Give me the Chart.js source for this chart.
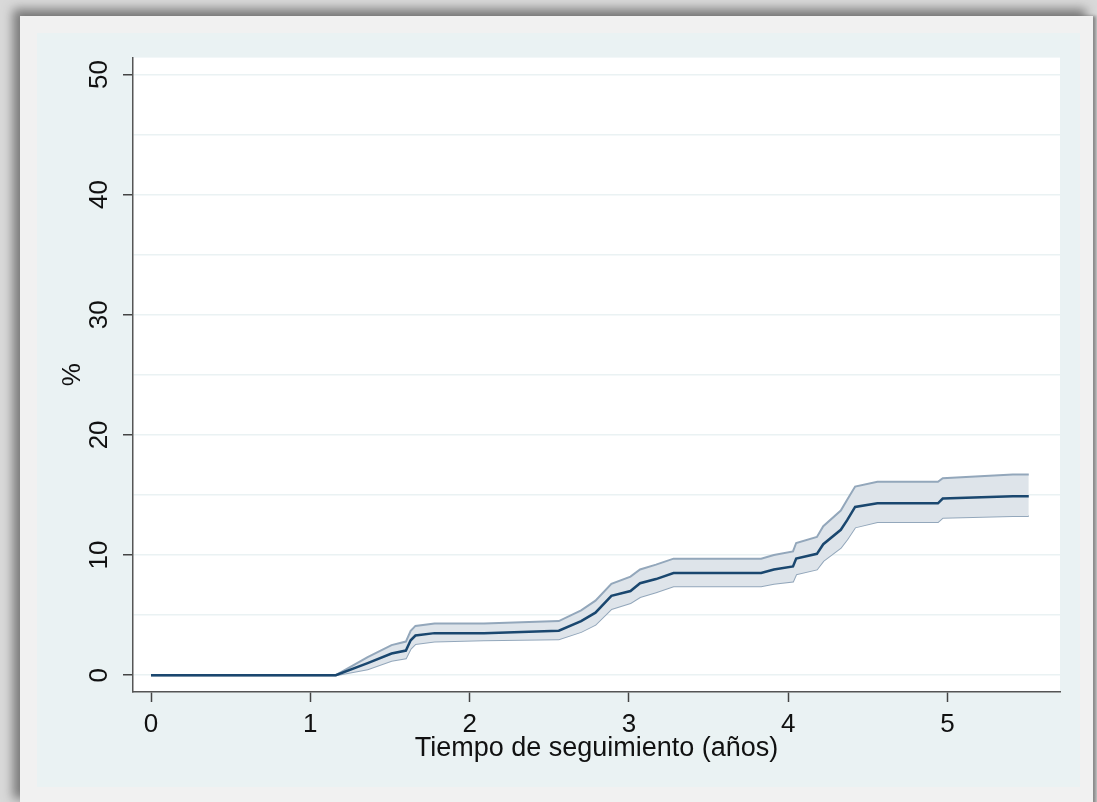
<!DOCTYPE html>
<html>
<head>
<meta charset="utf-8">
<script src="https://cdn.jsdelivr.net/npm/chart.js@4/dist/chart.umd.min.js"></script>
<style>
	body { margin: 0; background: #d9d9d9; width: 1097px; height: 802px; overflow: hidden; position: relative; }
	#marco { position: absolute; left: 20px; top: 16px; width: 1073px; height: 790px; background: #f1f1f1;
		box-shadow: -7px -7px 10px #7a7a7a, 3px 0 3px #8a8a8a; }
	#fondo { position: absolute; left: 37px; top: 33px; width: 1043px; height: 754px; background: #eaf2f3; }
	canvas { display: block; }
</style>
</head>
<body>
<div id="marco"></div>
<div id="fondo"><canvas id="grafico" width="1043" height="754"></canvas></div>
<script>
// tiempo de seguimiento (años) y % acumulado con IC 95%
const tiempo = [0, 1.16, 1.36, 1.51, 1.60, 1.63, 1.66, 1.78, 2.09, 2.56, 2.70, 2.79, 2.89, 3.01, 3.07, 3.17, 3.28, 3.83, 3.91, 4.03, 4.05, 4.18, 4.22, 4.33, 4.37, 4.42, 4.56, 4.94, 4.97, 5.41, 5.51];
const porcentaje = [0, 0, 1.0, 1.8, 2.05, 2.9, 3.3, 3.5, 3.5, 3.7, 4.5, 5.2, 6.6, 7.0, 7.65, 8.0, 8.5, 8.5, 8.8, 9.05, 9.7, 10.1, 10.9, 12.1, 12.9, 14.0, 14.3, 14.3, 14.7, 14.9, 14.9];
const icInferior = [0, 0, 0.5, 1.2, 1.4, 2.2, 2.6, 2.8, 2.9, 3.0, 3.6, 4.2, 5.5, 6.0, 6.5, 6.9, 7.4, 7.4, 7.6, 7.8, 8.4, 8.8, 9.5, 10.6, 11.3, 12.3, 12.75, 12.75, 13.1, 13.25, 13.25];
const icSuperior = [0, 0, 1.5, 2.5, 2.8, 3.7, 4.1, 4.3, 4.3, 4.5, 5.4, 6.2, 7.6, 8.2, 8.8, 9.2, 9.7, 9.7, 10.0, 10.3, 11.0, 11.5, 12.4, 13.7, 14.6, 15.7, 16.1, 16.1, 16.4, 16.7, 16.7];
const ticksX = [0, 1, 2, 3, 4, 5];
const ticksY = [0, 10, 20, 30, 40, 50];

const puntos = (valores) => tiempo.map((t, i) => ({x: t, y: valores[i]}));
const fuente = "'Liberation Sans', Arial, sans-serif";

// fondo blanco de la zona del grafico
const fondoBlanco = {
	id: "fondoBlanco",
	beforeDraw(chart){
		const {ctx, chartArea: a} = chart;
		ctx.save();
		ctx.fillStyle = "#ffffff";
		ctx.fillRect(a.left, a.top, a.right - a.left, a.bottom - a.top);
		ctx.restore();
	}
};

new Chart(document.querySelector("#grafico"), {
	type: "line",
	data: {
		datasets: [
			{ data: puntos(porcentaje), borderColor: "#1a476f", borderWidth: 2.5, pointRadius: 0, fill: false },
			{ data: puntos(icSuperior), borderColor: "#93a7bb", borderWidth: 2, pointRadius: 0, fill: "+1", backgroundColor: "#dee4ea" },
			{ data: puntos(icInferior), borderColor: "#93a7bb", borderWidth: 2, pointRadius: 0, fill: false }
		]
	},
	options: {
		responsive: false,
		animation: false,
		layout: { padding: { top: 20, right: 20, left: 0, bottom: 0 } },
		plugins: { legend: { display: false }, tooltip: { enabled: false } },
		scales: {
			x: {
				type: "linear",
				min: -0.113,
				max: 5.706,
				afterFit: (s) => { s.height = 95; },
				afterBuildTicks: (s) => { s.ticks = ticksX.map(v => ({value: v})); },
				grid: { drawOnChartArea: false, tickLength: 10, tickColor: "#444", tickWidth: 1.5 },
				border: { color: "#555", width: 1.5 },
				ticks: { color: "#111", padding: 7, font: { family: fuente, size: 26 } },
				title: { display: true, text: "Tiempo de seguimiento (años)", color: "#111",
					padding: { top: 0, bottom: 22 }, font: { family: fuente, size: 27 } }
			},
			y: {
				min: -1.4,
				max: 51.4,
				afterFit: (s) => { s.width = 96; },
				afterBuildTicks: (s) => {
					const lista = [];
					for (let v = 0; v <= 50; v += 5) lista.push({value: v});
					s.ticks = lista;
				},
				grid: {
					color: "#eaf2f3",
					lineWidth: 1.5,
					tickLength: 10,
					tickWidth: 1.5,
					tickColor: (c) => ticksY.includes(c.tick.value) ? "#444" : "rgba(0,0,0,0)"
				},
				border: { color: "#555", width: 1.5 },
				ticks: {
					color: "#111",
					padding: 9,
					minRotation: 90,
					maxRotation: 90,
					crossAlign: "center",
					font: { family: fuente, size: 26 },
					callback: (v) => ticksY.includes(v) ? String(v) : ""
				},
				title: { display: true, text: "%", color: "#111",
					padding: { top: 20, bottom: 0 }, font: { family: fuente, size: 26 } }
			}
		}
	},
	plugins: [fondoBlanco]
});
</script>
</body>
</html>
